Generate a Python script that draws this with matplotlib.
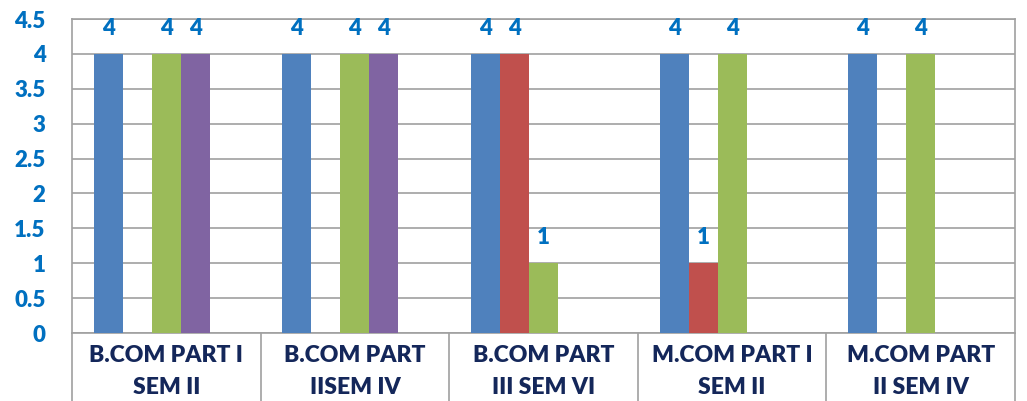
import matplotlib.pyplot as plt
import numpy as np

categories = ["B.COM PART I\nSEM II", "B.COM PART\nIISEM IV", "B.COM PART\nIII SEM VI",
              "M.COM PART I\nSEM II", "M.COM PART\nII SEM IV"]
series_blue = [4, 4, 4, 4, 4]
series_red = [0, 0, 4, 1, 0]
series_green = [4, 4, 1, 4, 4]
series_purple = [4, 4, 0, 0, 0]
series_empty = [0, 0, 0, 0, 0]
yticks = [0, 0.5, 1, 1.5, 2, 2.5, 3, 3.5, 4, 4.5]

colors = ["#4F81BD", "#C0504D", "#9BBB59", "#8064A2", "#4BACC6"]
all_series = [series_blue, series_red, series_green, series_purple, series_empty]

plt.rcParams['font.family'] = ['Lato', 'DejaVu Sans']

fig = plt.figure(figsize=(10.27, 4.01), dpi=100)
ax = fig.add_axes([72 / 1027, 1 - 333 / 401, (1015 - 72) / 1027, (333 - 19) / 401])

x = np.arange(len(categories))
n = len(all_series)
width = 1 / (n + 1.5)
for i, (vals, c) in enumerate(zip(all_series, colors)):
    pos = x + (i - (n - 1) / 2) * width
    ax.bar(pos, vals, width, color=c, zorder=3)
    for p, v in zip(pos, vals):
        if v:
            ax.annotate(str(v), (p, v), xytext=(0, 11), textcoords="offset points",
                        ha="center", va="bottom", color="#0070C0",
                        fontsize=16, fontweight="heavy", annotation_clip=False)

ax.set_xlim(-0.5, len(categories) - 0.5)
ax.set_ylim(0, 4.5)
ax.set_yticks(yticks)
ax.set_yticklabels([f"{t:g}" for t in yticks], color="#0070C0", fontsize=16, fontweight="heavy")
ax.tick_params(axis="y", length=0, pad=19)
ax.grid(axis="y", color="#A0A0A0", linewidth=1.2, zorder=0)

# category labels, boxed by long minor ticks
ax.set_xticks(x)
ax.set_xticklabels(categories, color="#14275A", fontsize=16.5, fontweight="heavy", linespacing=1.6)
ax.tick_params(axis="x", which="major", length=0, pad=9)
ax.set_xticks(np.arange(len(categories) + 1) - 0.5, minor=True)
ax.tick_params(axis="x", which="minor", length=52, width=1.2, color="#A0A0A0")

for s in ax.spines.values():
    s.set_color("#A0A0A0")
    s.set_linewidth(1.2)

fig.savefig("out.png", dpi=100)
